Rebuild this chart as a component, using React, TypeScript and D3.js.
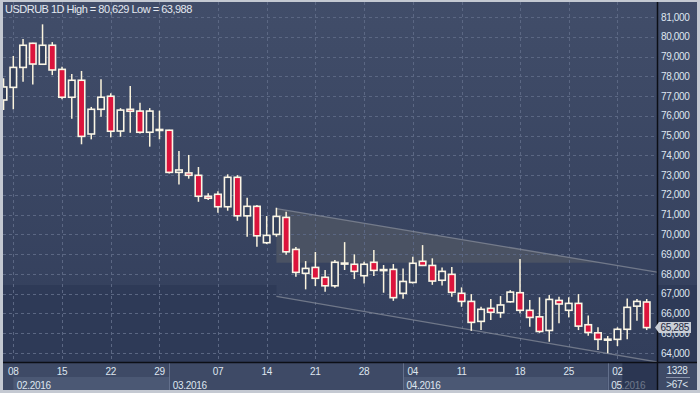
import React, { useEffect, useRef } from 'react';
import * as d3 from 'd3';

// USDRUB daily candles, Feb - May 2016
const title = 'USDRUB 1D High = 80,629 Low = 63,988';

const opens = [76.80, 77.44, 78.45, 79.67, 78.61, 79.57, 78.35, 76.94, 77.80, 75.08,
  76.33, 76.99, 75.23, 76.33, 76.24, 75.17, 75.27, 75.27, 73.14, 73.11,
  72.99, 71.93, 72.03, 71.40, 72.89, 70.94, 71.42, 69.58, 70.00, 70.86,
  69.24, 68.03, 68.33, 67.83, 67.40, 68.52, 68.49, 67.91, 68.59, 68.18,
  68.23, 67.02, 67.57, 68.64, 68.43, 67.68, 67.98, 67.02, 66.61, 65.60,
  66.26, 66.04, 66.59, 67.05, 66.16, 65.83, 65.14, 66.66, 66.16, 66.51,
  65.43, 65.02, 64.68, 64.69, 65.20, 66.37, 66.58];
const highs = [77.90, 79.03, 79.89, 79.70, 80.629, 79.73, 78.48, 78.12, 78.27, 76.45,
  77.85, 77.14, 76.39, 77.51, 76.66, 76.39, 76.26, 75.30, 74.22, 74.02,
  73.41, 72.08, 72.19, 73.04, 73.00, 71.86, 71.49, 70.93, 71.35, 71.15,
  69.36, 68.65, 69.11, 68.20, 68.70, 69.61, 68.99, 68.62, 69.21, 68.45,
  68.50, 68.28, 68.87, 69.46, 68.79, 68.33, 68.35, 67.32, 66.98, 66.34,
  66.73, 66.88, 67.18, 68.75, 66.68, 66.82, 66.93, 66.85, 66.82, 66.98,
  65.90, 65.30, 64.86, 65.30, 66.76, 66.73, 66.73];
const lows = [76.30, 76.33, 77.73, 77.59, 78.58, 78.06, 76.84, 75.85, 74.56, 74.81,
  75.95, 74.91, 74.94, 75.14, 75.10, 74.44, 74.81, 73.08, 72.53, 72.82,
  71.65, 71.74, 71.10, 71.20, 70.69, 69.88, 69.38, 69.51, 69.88, 68.97,
  67.86, 67.22, 67.39, 67.10, 67.30, 68.20, 67.74, 67.52, 67.89, 67.05,
  66.64, 66.74, 67.52, 68.40, 67.45, 67.42, 66.85, 66.34, 65.12, 65.16,
  65.67, 65.78, 66.55, 66.01, 65.33, 65.02, 64.57, 65.50, 65.80, 65.16,
  64.87, 64.15, 63.988, 64.35, 64.69, 65.63, 65.16];
const closes = [77.46, 78.45, 79.57, 78.62, 79.57, 78.32, 76.94, 77.80, 74.96, 76.33,
  76.94, 75.22, 76.29, 76.23, 75.17, 76.24, 75.31, 73.14, 73.26, 72.99,
  71.93, 71.83, 71.40, 72.89, 70.94, 71.42, 69.93, 69.95, 70.91, 69.12,
  68.08, 68.28, 67.78, 67.40, 68.59, 68.55, 68.13, 68.49, 68.18, 68.22,
  66.80, 67.62, 68.54, 68.43, 67.64, 68.13, 67.07, 66.61, 65.55, 66.21,
  66.06, 66.43, 67.08, 66.16, 65.80, 65.09, 66.71, 66.48, 66.51, 65.36,
  65.04, 64.69, 64.70, 65.20, 66.31, 66.61, 65.285];

const priceTicks = [64, 65, 66, 67, 68, 69, 70, 71, 72, 73, 74, 75, 76, 77, 78, 79, 80, 81];
const weekTickIdx = [1, 6, 11, 16, 22, 27, 32, 37, 42, 47, 53, 58, 63];
const weekTickLabels = ['08', '15', '22', '29', '07', '14', '21', '28', '04', '11', '18', '25', '02'];
const monthStartIdx = [1, 17, 41, 62];
const monthLabels = ['02.2016', '03.2016', '04.2016', '05.2016'];

// trend channel drawn on the chart: [candle index, price]
const channelIdx = [28, 67];
const channelTop = [71.30, 68.10];
const channelBottom = [66.86, 63.55];
const lightZoneFloor = 68.57;
const darkZoneCeil = 67.44;
const currentIdx = 63.5;
const lastPrice = 65.285;
const footerTop = '1328';
const footerBottom = '>67<';

const fmt = (v: number) => v.toFixed(3).replace('.', ',');
const FONT = "'Liberation Sans', Arial, sans-serif";

export default function App() {
  const ref = useRef<SVGSVGElement>(null);

  useEffect(() => {
    const svg = d3.select(ref.current);
    svg.selectAll('*').remove();

    const W = 700, H = 393;
    const left = 3, top = 2, right = 657, bottom = 362, axisRight = 697, axisBottom = 390;

    const x = d3.scaleLinear().domain([1, 66]).range([13.3, 646.7]);
    const y = d3.scaleLinear().domain([64, 81]).range([353, 17]);

    const defs = svg.append('defs');
    const grad = defs.append('linearGradient').attr('id', 'bg').attr('x1', 0).attr('y1', 0).attr('x2', 0).attr('y2', 1);
    grad.append('stop').attr('offset', '0%').attr('stop-color', '#414d69');
    grad.append('stop').attr('offset', '100%').attr('stop-color', '#323e5b');
    defs.append('clipPath').attr('id', 'plotclip')
      .append('rect').attr('x', left).attr('y', top).attr('width', right - left).attr('height', bottom - top);

    // frame + backgrounds
    svg.append('rect').attr('width', W).attr('height', H).attr('fill', '#c4c9d2');
    svg.append('rect').attr('x', left).attr('y', top).attr('width', axisRight - left).attr('height', bottom - top)
      .attr('fill', 'url(#bg)');

    const topAt = (i: number) => channelTop[0] + (channelTop[1] - channelTop[0]) * (i - channelIdx[0]) / (channelIdx[1] - channelIdx[0]);
    const botAt = (i: number) => channelBottom[0] + (channelBottom[1] - channelBottom[0]) * (i - channelIdx[0]) / (channelIdx[1] - channelIdx[0]);
    const edgeIdx = x.invert(right);

    const yD = y(darkZoneCeil);
    const darkPts: [number, number][] = [
      [left, yD], [x(channelIdx[0]), yD], [x(channelIdx[0]), y(botAt(channelIdx[0]))],
      [right, y(botAt(edgeIdx))], [right, yD], [axisRight, yD], [axisRight, bottom], [left, bottom]
    ];
    svg.append('path').attr('d', d3.line()(darkPts) + 'Z').attr('fill', '#2e3a57');

    const meetIdx = channelIdx[0] + (channelTop[0] - lightZoneFloor) / (channelTop[0] - channelTop[1]) * (channelIdx[1] - channelIdx[0]);
    const lightPts: [number, number][] = [
      [x(channelIdx[0]), y(channelTop[0])], [x(meetIdx), y(lightZoneFloor)], [x(channelIdx[0]), y(lightZoneFloor)]
    ];
    svg.append('path').attr('d', d3.line()(lightPts) + 'Z').attr('fill', '#4a5263');

    const plot = svg.append('g').attr('clip-path', 'url(#plotclip)');

    // grid
    plot.selectAll('.hg').data(priceTicks).enter().append('line')
      .attr('x1', left).attr('x2', right)
      .attr('y1', d => Math.round(y(d)) + 0.5).attr('y2', d => Math.round(y(d)) + 0.5)
      .attr('stroke', '#5b6783').attr('stroke-dasharray', '3,3');
    plot.selectAll('.vg').data(weekTickIdx).enter().append('line')
      .attr('x1', d => Math.round(x(d)) + 0.5).attr('x2', d => Math.round(x(d)) + 0.5)
      .attr('y1', top).attr('y2', bottom)
      .attr('stroke', '#5b6783').attr('stroke-dasharray', '3,3');

    // channel lines
    [channelTop, channelBottom].forEach(vals => {
      const fn = vals === channelTop ? topAt : botAt;
      plot.append('line')
        .attr('x1', x(channelIdx[0])).attr('y1', y(vals[0]))
        .attr('x2', right).attr('y2', y(fn(edgeIdx)))
        .attr('stroke', '#8a909c').attr('stroke-opacity', 0.7).attr('stroke-width', 1.3);
    });

    // candles
    const idx = d3.range(opens.length);
    const bw = 6.5;
    const candles = plot.selectAll('.c').data(idx).enter().append('g');
    candles.append('line')
      .attr('x1', i => x(i)).attr('x2', i => x(i))
      .attr('y1', i => y(highs[i])).attr('y2', i => y(lows[i]))
      .attr('stroke', '#fbf4dd').attr('stroke-width', 1.5);
    candles.append('rect')
      .attr('x', i => x(i) - bw / 2)
      .attr('y', i => y(Math.max(opens[i], closes[i])))
      .attr('width', bw)
      .attr('height', i => Math.max(1, Math.abs(y(opens[i]) - y(closes[i]))))
      .attr('fill', i => closes[i] < opens[i] ? '#dc143c' : '#34405b')
      .attr('stroke', '#fbf6e6').attr('stroke-width', 1.6);

    // separators
    svg.append('line').attr('x1', right + 0.5).attr('x2', right + 0.5).attr('y1', top).attr('y2', axisBottom)
      .attr('stroke', '#0c0f16').attr('stroke-width', 1.5);

    // bottom axis
    svg.append('rect').attr('x', left).attr('y', bottom).attr('width', axisRight - left).attr('height', axisBottom - bottom)
      .attr('fill', '#3e4a66');
    monthStartIdx.forEach((s, k) => {
      const e = k + 1 < monthStartIdx.length ? x(monthStartIdx[k + 1]) : right;
      if (k % 2 === 0) {
        svg.append('rect').attr('x', x(s)).attr('y', 377).attr('width', Math.min(e, right) - x(s)).attr('height', axisBottom - 377)
          .attr('fill', '#4b5874');
      }
      if (k > 0) {
        svg.append('line').attr('x1', Math.round(x(s)) + 0.5).attr('x2', Math.round(x(s)) + 0.5)
          .attr('y1', bottom).attr('y2', axisBottom).attr('stroke', '#63708c');
      }
      svg.append('text').attr('x', x(s) + 3.5).attr('y', 388.5).text(monthLabels[k])
        .attr('fill', '#dfe6f0').attr('font-size', 10).attr('font-family', FONT).attr('letter-spacing', -0.3);
    });
    svg.selectAll('.xt').data(weekTickIdx).enter().append('text')
      .attr('x', d => x(d)).attr('y', 375).attr('text-anchor', 'middle')
      .text((d, k) => weekTickLabels[k])
      .attr('fill', '#dfe6f0').attr('font-size', 10).attr('font-family', FONT).attr('letter-spacing', -0.3);
    svg.append('rect').attr('x', (x(currentIdx))).attr('y', bottom + 1).attr('width', right - x(currentIdx)).attr('height', axisBottom - bottom - 1)
      .attr('fill', '#1f2a44').attr('fill-opacity', 0.6);

    svg.append('line').attr('x1', left).attr('x2', axisRight).attr('y1', bottom + 0.5).attr('y2', bottom + 0.5)
      .attr('stroke', '#0c0f16').attr('stroke-width', 1.5);
    svg.append('line').attr('x1', right + 0.5).attr('x2', right + 0.5).attr('y1', bottom).attr('y2', axisBottom)
      .attr('stroke', '#0c0f16').attr('stroke-width', 1.5);

    // right axis labels
    svg.selectAll('.yt').data(priceTicks).enter().append('text')
      .attr('x', 661).attr('y', d => y(d)).attr('dy', '0.36em')
      .text(d => fmt(d))
      .attr('fill', '#dfe6f0').attr('font-size', 10).attr('font-family', FONT).attr('letter-spacing', -0.35);

    // last price label
    const yp = y(lastPrice);
    const tag: [number, number][] = [[655, yp], [659, yp - 5.5], [691, yp - 5.5], [691, yp + 5.5], [659, yp + 5.5]];
    svg.append('path').attr('d', d3.line()(tag) + 'Z').attr('fill', '#c9ced6');
    svg.append('text').attr('x', 660.5).attr('y', yp).attr('dy', '0.36em').text(fmt(lastPrice))
      .attr('fill', '#1d2740').attr('font-size', 10).attr('font-family', FONT).attr('letter-spacing', -0.35);

    // footer box
    svg.append('text').attr('x', 677).attr('y', 374).attr('text-anchor', 'middle').text(footerTop)
      .attr('fill', '#dfe6f0').attr('font-size', 10).attr('font-family', FONT).attr('letter-spacing', -0.3);
    svg.append('line').attr('x1', 666).attr('x2', 690).attr('y1', 377.5).attr('y2', 377.5).attr('stroke', '#8792a8');
    svg.append('text').attr('x', 677).attr('y', 387.5).attr('text-anchor', 'middle').text(footerBottom)
      .attr('fill', '#dfe6f0').attr('font-size', 10).attr('font-family', FONT).attr('letter-spacing', -0.3);

    // title
    svg.append('text').attr('x', 5).attr('y', 12.5).text(title)
      .attr('fill', '#e3e8f0').attr('font-size', 11).attr('font-family', FONT).attr('letter-spacing', -0.5);
  }, []);

  return <svg ref={ref} width={700} height={393} style={{ position: 'absolute', left: 0, top: 0, display: 'block' }} />;
}
